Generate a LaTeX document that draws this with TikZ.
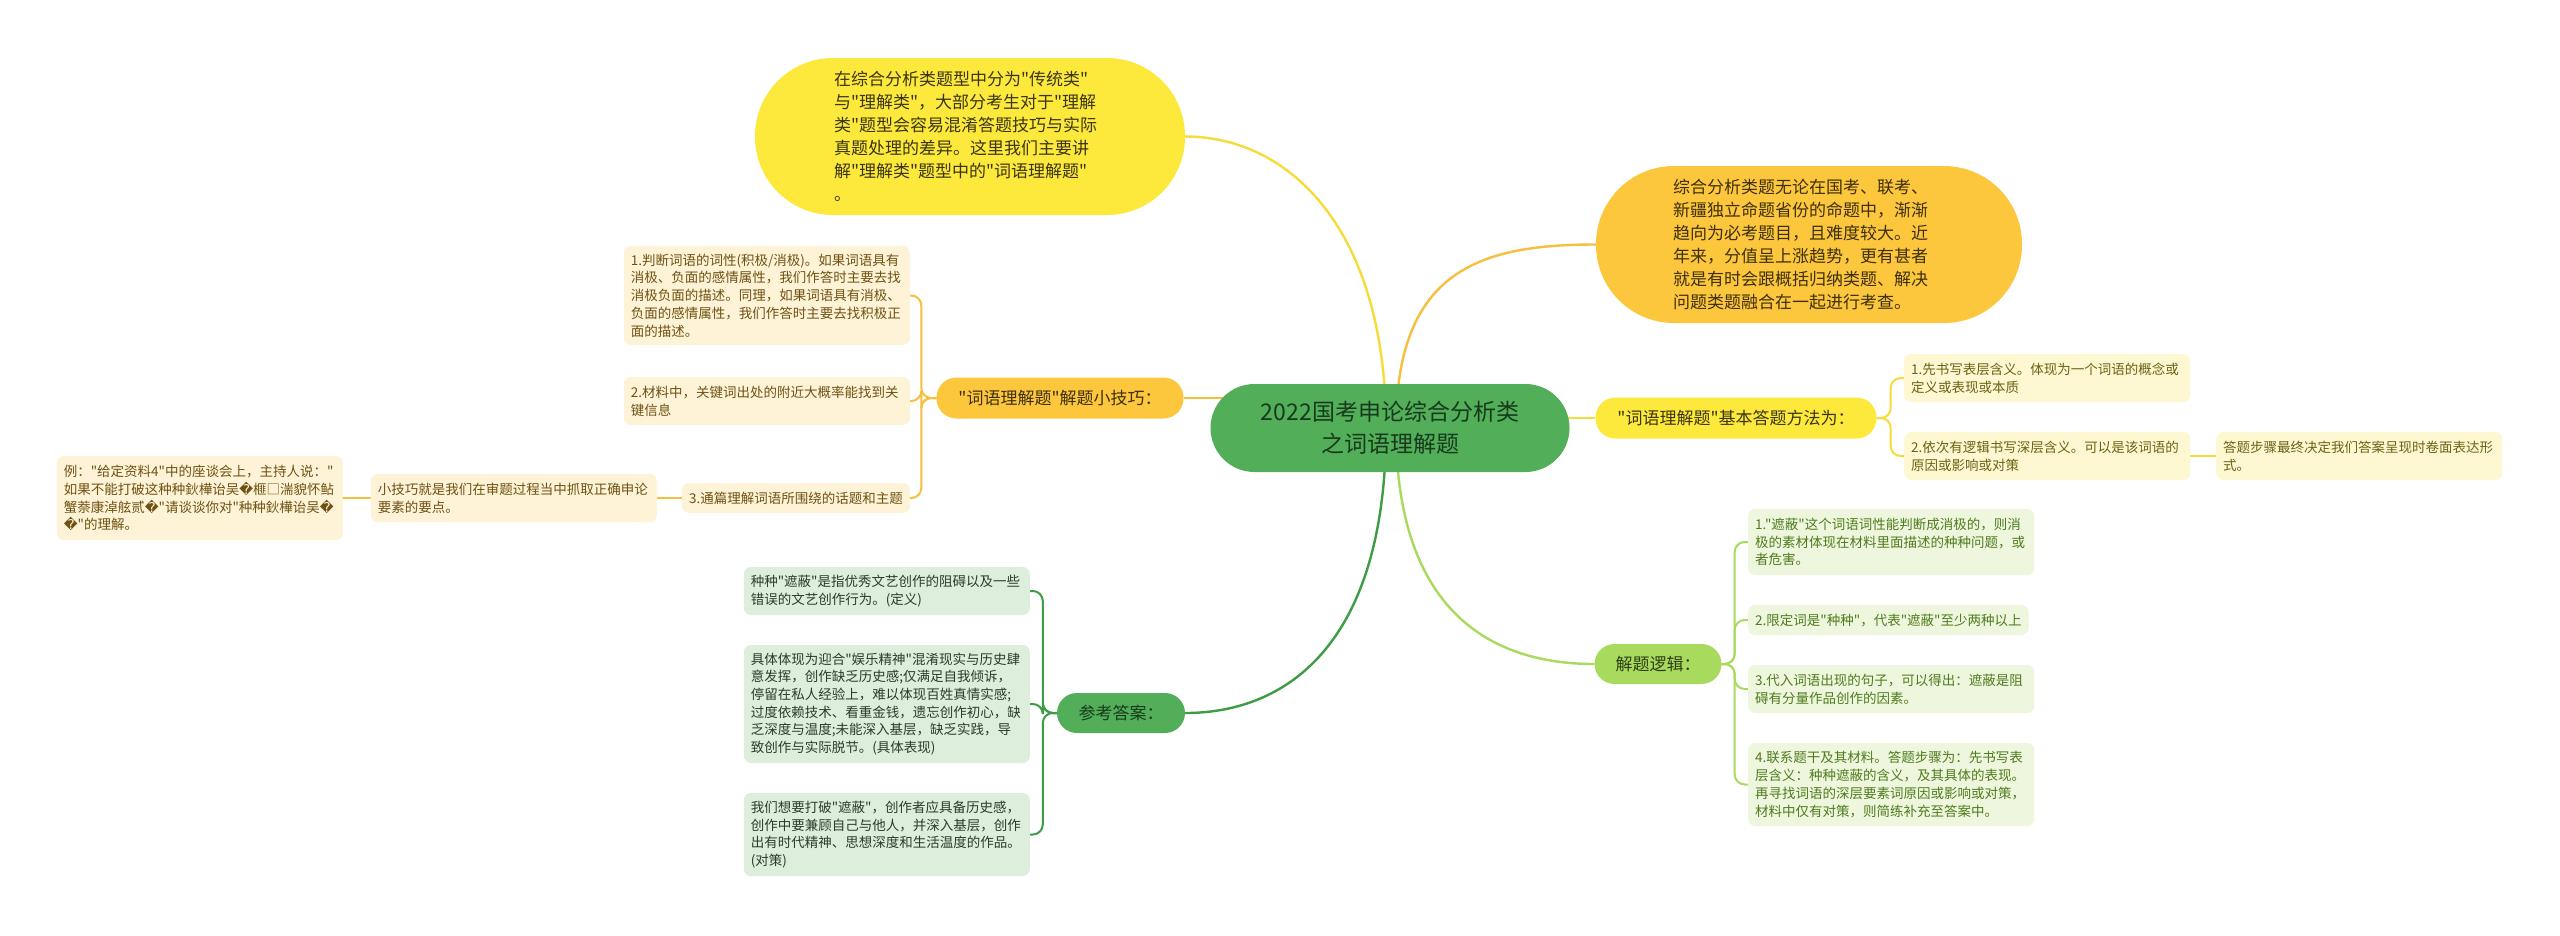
\documentclass[tikz,border=0pt]{standalone}
\usepackage{fontspec}
\setmainfont{Noto Sans CJK SC}[Ligatures=TeXOff]
\newfontfamily\dvsans{DejaVu Sans}
\usetikzlibrary{backgrounds}
\newcommand\repchar{{\dvsans\char"FFFD}}
\definecolor{cyel}{HTML}{FDE93B}
\definecolor{corg}{HTML}{FCC73D}
\definecolor{cgrn}{HTML}{52AE59}
\definecolor{clgr}{HTML}{A8DA5E}
\definecolor{lfo}{HTML}{FEF3D6}
\definecolor{lfy}{HTML}{FEF8D2}
\definecolor{lfg}{HTML}{EEF7DD}
\definecolor{lfd}{HTML}{DDEEDD}
\definecolor{tO}{HTML}{6E5213}
\definecolor{tY}{HTML}{6B6214}
\definecolor{tG}{HTML}{4F7B1E}
\definecolor{tD}{HTML}{2C3B2D}
\definecolor{kY}{HTML}{F6DC3A}
\definecolor{kO}{HTML}{F4C03E}
\definecolor{kG}{HTML}{A8DA5E}
\definecolor{kD}{HTML}{3F9C46}
\definecolor{txY}{HTML}{3B3512}
\definecolor{txO}{HTML}{3F300B}
\definecolor{txG}{HTML}{183A1C}
\definecolor{txL}{HTML}{2E3E12}
\tikzset{
  bub/.style={rounded corners=78pt, align=left, text width=272pt, inner ysep=4pt,
    minimum height=157pt, font=\fontsize{17}{23}\selectfont},
  mainnode/.style={rounded corners=20pt, minimum height=41pt, inner xsep=0pt,
    font=\fontsize{17}{22}\selectfont},
  leaf/.style={rounded corners=7pt, align=left, text width=272pt, inner xsep=7pt,
    inner ysep=3pt, font=\fontsize{13.5}{17.7}\selectfont},
  leafn/.style={rounded corners=7pt, align=left, inner xsep=7pt,
    inner ysep=3pt, font=\fontsize{13.5}{17.7}\selectfont},
  lo/.style={leaf, fill=lfo, text=tO},
  ly/.style={leaf, fill=lfy, text=tY},
  lg/.style={leaf, fill=lfg, text=tG},
  ld/.style={leaf, fill=lfd, text=tD},
  maincon/.style={line width=2.4pt},
  brcon/.style={line width=2pt, rounded corners=10pt},
}
\begin{document}
\begin{tikzpicture}[x=1pt,y=1pt]
\useasboundingbox (0,0) rectangle (2560,-935);

% central
\node[fill=cgrn, text=txG, rounded corners=44pt, minimum width=359pt, minimum height=88pt,
  align=center, inner sep=0pt, font=\fontsize{23}{32}\selectfont] (c) at (1390,-428)
  {2022国考申论综合分析类\\之词语理解题};

% bubbles
\node[bub, fill=cyel, text=txY, inner xsep=79pt] (intro) at (970,-136.5)
  {在综合分析类题型中分为"传统类"\\与"理解类"，大部分考生对于"理解\\类"题型会容易混淆答题技巧与实际\\真题处理的差异。这里我们主要讲\\解"理解类"题型中的"词语理解题"\\。};
\node[bub, fill=corg, text=txO, inner xsep=77pt] (bg) at (1809,-244.5)
  {综合分析类题无论在国考、联考、\\新疆独立命题省份的命题中，渐渐\\趋向为必考题目，且难度较大。近\\年来，分值呈上涨趋势，更有甚者\\就是有时会跟概括归纳类题、解决\\问题类题融合在一起进行考查。};

% first level
\node[mainnode, fill=corg, text=txO, minimum width=247pt] (ob) at (1060,-398)
  {"词语理解题"解题小技巧：};
\node[mainnode, fill=cyel, text=txY, minimum width=281pt] (ry) at (1736,-418)
  {"词语理解题"基本答题方法为：};
\node[mainnode, fill=cgrn, text=txG, minimum width=128pt, minimum height=40pt] (ck) at (1121,-713)
  {参考答案：};
\node[mainnode, fill=clgr, text=txL, minimum width=127pt, minimum height=40pt] (gl) at (1658,-664)
  {解题逻辑：};

% left branch leaves
\node[lo, minimum height=99pt, anchor=east] (L1) at (910,-295.5)
  {1.判断词语的词性(积极/消极)。如果词语具有\\消极、负面的感情属性，我们作答时主要去找\\消极负面的描述。同理，如果词语具有消极、\\负面的感情属性，我们作答时主要去找积极正\\面的描述。};
\node[lo, minimum height=48pt, anchor=east] (L2) at (910,-401)
  {2.材料中，关键词出处的附近大概率能找到关\\键信息};
\node[leafn, fill=lfo, text=tO, minimum height=30pt, anchor=east] (L3) at (910,-498)
  {3.通篇理解词语所围绕的话题和主题};
\node[lo, minimum height=48pt, anchor=east] (xj) at (657,-498)
  {小技巧就是我们在审题过程当中抓取正确申论\\要素的要点。};
\node[lo, minimum height=84pt, anchor=east] (ex) at (343,-498)
  {例："给定资料4"中的座谈会上，主持人说："\\如果不能打破这种种鈥樺诒吴\repchar 榧□湍貌怀鲇\\蟹萘康淖舷贰\repchar"请谈谈你对"种种鈥樺诒吴\repchar\\\repchar"的理解。};

% right yellow branch leaves
\node[ly, minimum height=48pt, anchor=west] (R1) at (1904,-378)
  {1.先书写表层含义。体现为一个词语的概念或\\定义或表现或本质};
\node[ly, minimum height=48pt, anchor=west] (R2) at (1904,-456)
  {2.依次有逻辑书写深层含义。可以是该词语的\\原因或影响或对策};
\node[ly, minimum height=48pt, anchor=west] (R3) at (2216,-456)
  {答题步骤最终决定我们答案呈现时卷面表达形\\式。};

% logic branch leaves
\node[lg, minimum height=66pt, anchor=west] (G1) at (1748,-542)
  {1."遮蔽"这个词语词性能判断成消极的，则消\\极的素材体现在材料里面描述的种种问题，或\\者危害。};
\node[leafn, fill=lfg, text=tG, minimum height=30pt, anchor=west] (G2) at (1748,-620)
  {2.限定词是"种种"，代表"遮蔽"至少两种以上};
\node[lg, minimum height=48pt, anchor=west] (G3) at (1748,-689)
  {3.代入词语出现的句子，可以得出：遮蔽是阻\\碍有分量作品创作的因素。};
\node[lg, minimum height=83pt, anchor=west] (G4) at (1748,-784.5)
  {4.联系题干及其材料。答题步骤为：先书写表\\层含义：种种遮蔽的含义，及其具体的表现。\\再寻找词语的深层要素词原因或影响或对策，\\材料中仅有对策，则简练补充至答案中。};

% answer branch leaves
\node[ld, minimum height=48pt, anchor=east] (A1) at (1030,-591)
  {种种"遮蔽"是指优秀文艺创作的阻碍以及一些\\错误的文艺创作行为。(定义)};
\node[ld, minimum height=118pt, anchor=east] (A2) at (1030,-704)
  {具体体现为迎合"娱乐精神"混淆现实与历史肆\\意发挥，创作缺乏历史感;仅满足自我倾诉，\\停留在私人经验上，难以体现百姓真情实感;\\过度依赖技术、看重金钱，遗忘创作初心，缺\\乏深度与温度;未能深入基层，缺乏实践，导\\致创作与实际脱节。(具体表现)};
\node[ld, minimum height=83pt, anchor=east] (A3) at (1030,-834.5)
  {我们想要打破"遮蔽"，创作者应具备历史感，\\创作中要兼顾自己与他人，并深入基层，创作\\出有时代精神、思想深度和生活温度的作品。\\(对策)};

\begin{scope}[on background layer]
\fill[white] (0,0) rectangle (2560,-935);
% main connectors
\draw[maincon, kY] ([xshift=-4pt]c.center) .. controls (1386,-230) and (1290,-136.5) .. (intro.east);
\draw[maincon, kO] ([xshift=6pt]c.center) .. controls (1396,-270) and (1480,-244.5) .. (bg.west);
\draw[maincon, kD] ([xshift=-4pt]c.center) .. controls (1386,-640) and (1290,-713) .. (ck.east);
\draw[maincon, kG] ([xshift=6pt]c.center) .. controls (1396,-600) and (1480,-664) .. (gl.west);
\draw[maincon, kO] (ob.east) -- (ob.east -| c.center);
\draw[maincon, kY] (ry.west) -- (ry.west -| c.center);
% left branch
\draw[brcon, kO] (ob.west) -- ++(-15,0) |- (L1.east);
\draw[brcon, kO] (ob.west) -- ++(-15,0) |- (L2.east);
\draw[brcon, kO] (ob.west) -- ++(-15,0) |- (L3.east);
\draw[brcon, kO] (L3.west) -- (xj.east);
\draw[brcon, kO] (xj.west) -- (ex.east);
% right yellow branch
\draw[brcon, kY] (ry.east) -- ++(14,0) |- (R1.west);
\draw[brcon, kY] (ry.east) -- ++(14,0) |- (R2.west);
\draw[brcon, kY] (R2.east) -- (R3.west);
% logic branch
\draw[brcon, kG] (gl.east) -- ++(13,0) |- (G1.west);
\draw[brcon, kG] (gl.east) -- ++(13,0) |- (G2.west);
\draw[brcon, kG] (gl.east) -- ++(13,0) |- (G3.west);
\draw[brcon, kG] (gl.east) -- ++(13,0) |- (G4.west);
% answer branch
\draw[brcon, kD] (ck.west) -- ++(-14,0) |- (A1.east);
\draw[brcon, kD] (ck.west) -- ++(-14,0) |- (A2.east);
\draw[brcon, kD] (ck.west) -- ++(-14,0) |- (A3.east);
\end{scope}
\end{tikzpicture}
\end{document}
